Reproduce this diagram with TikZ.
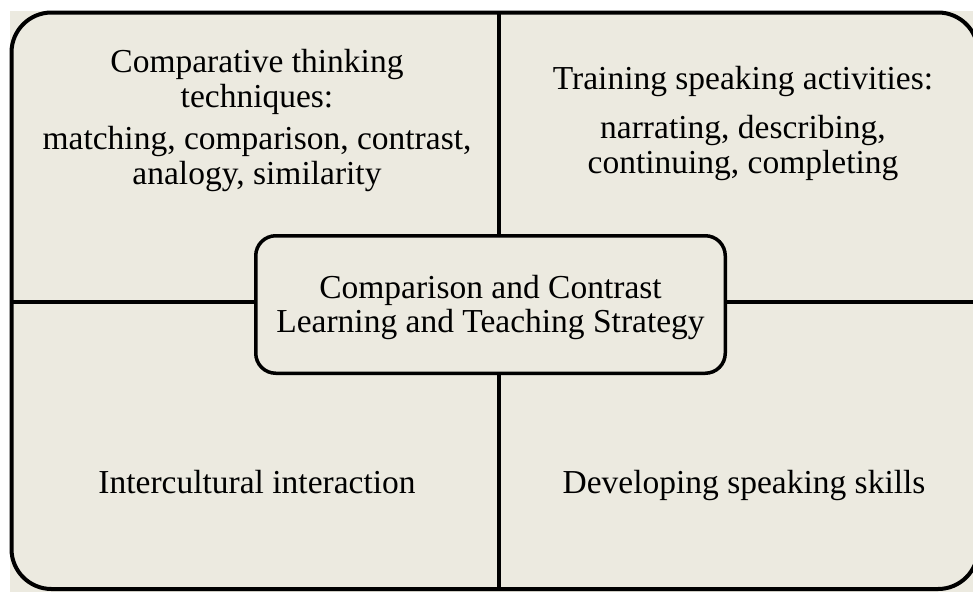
\documentclass[tikz,border=0pt]{standalone}
\usepackage{fontspec}
\setmainfont{Liberation Serif}
\usetikzlibrary{positioning}
\definecolor{panelbg}{RGB}{236,234,224}
\tikzset{
    quadtext/.style={align=center, inner sep=0pt, font=\fontsize{33.5}{34.5}\selectfont},
}
\begin{document}
\begin{tikzpicture}[x=1pt, y=-1pt, line width=3.5pt]
    \useasboundingbox (0,0) rectangle (973,592);
    \fill[panelbg] (10,11) rectangle (973,592);

    \node[draw, rounded corners=40pt, line width=4pt, minimum width=966.5pt, minimum height=576.5pt, inner sep=0pt, outer sep=0pt](frame) at (494.75,300.75) {};

    % quadrant dividers
    \coordinate (cross) at (499,302);
    \draw (frame.north -| cross) -- (frame.south -| cross);
    \draw (frame.west |- cross) -- (frame.east |- cross);

    \node[draw, fill=panelbg, rounded corners=20pt, minimum width=469.5pt, minimum height=137.5pt](strategy) at (490.5,304.5) {};
    \node[quadtext](strategytext) at ([yshift=-3pt]strategy.center) {Comparison and Contrast\\Learning and Teaching Strategy};

    \node[quadtext, anchor=north](techniques) at (257,48) {Comparative thinking\\techniques:\\[8pt]matching, comparison, contrast,\\analogy, similarity};
    \node[quadtext, anchor=north](activities) at (743,65) {Training speaking activities:\\[14.5pt]narrating, describing,\\continuing, completing};

    \node[quadtext, anchor=base](interaction) at (257,493) {Intercultural interaction};
    \node[quadtext, anchor=base](skills) at (744,493) {Developing speaking skills};
\end{tikzpicture}
\end{document}
